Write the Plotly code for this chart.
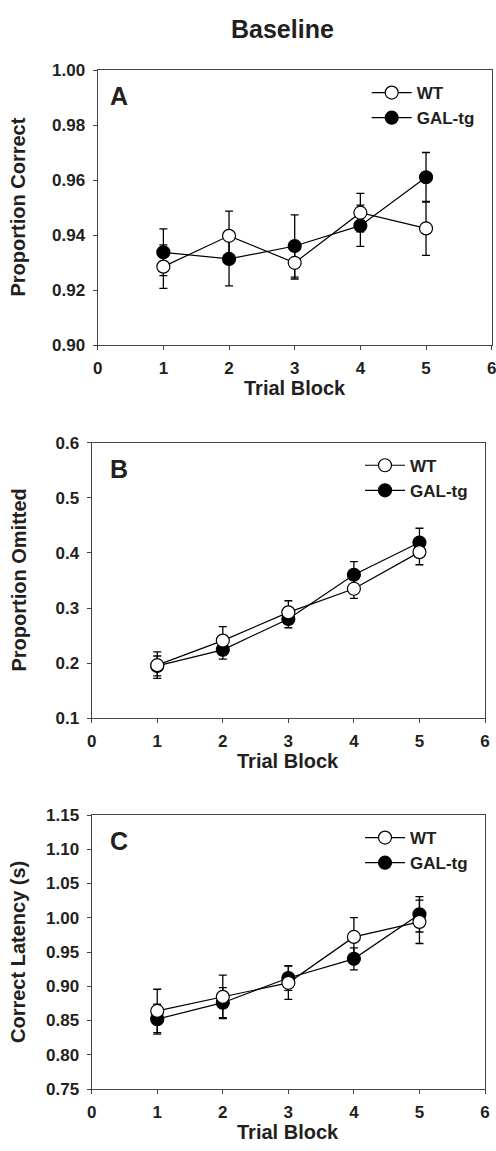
import plotly.graph_objects as go

# ---------------- data ----------------
trial_blocks = [1, 2, 3, 4, 5]
x_tick_vals = [0, 1, 2, 3, 4, 5, 6]

wt_correct = [0.9285, 0.9397, 0.9299, 0.9481, 0.9424]
wt_correct_err = [0.0079, 0.0090, 0.0059, 0.0070, 0.0098]
gal_correct = [0.9337, 0.9313, 0.9360, 0.9434, 0.9610]
gal_correct_err = [0.0085, 0.0098, 0.0113, 0.0075, 0.0090]

wt_omitted = [0.1964, 0.2410, 0.2922, 0.3350, 0.4015]
wt_omitted_err = [0.0240, 0.0253, 0.0211, 0.0175, 0.0229]
gal_omitted = [0.1950, 0.2242, 0.2803, 0.3604, 0.4188]
gal_omitted_err = [0.0180, 0.0170, 0.0160, 0.0240, 0.0260]

wt_latency = [0.864, 0.8845, 0.905, 0.972, 0.994]
wt_latency_err = [0.0316, 0.0316, 0.0243, 0.0282, 0.0316]
gal_latency = [0.852, 0.876, 0.912, 0.940, 1.005]
gal_latency_err = [0.0219, 0.0219, 0.0180, 0.0160, 0.0258]

series_names = ["WT", "GAL-tg"]
panel_letters = ["A", "B", "C"]
y_titles = ["Proportion Correct", "Proportion Omitted", "Correct Latency (s)"]
x_title = "Trial Block"
main_title = "Baseline"

# ---------------- layout geometry (pixels) ----------------
W, H = 496, 1151
FONT = "Liberation Sans, Arial, Helvetica, sans-serif"
TXT = "#231f20"
AX = "#444444"

panels = [
    dict(left=97.7, right=491.7, top=70.0, bottom=345.0,
         yrange=[0.90, 1.00], dtick=0.02, fmt=".2f",
         wt=wt_correct, wt_err=wt_correct_err, gal=gal_correct, gal_err=gal_correct_err),
    dict(left=91.7, right=485.0, top=442.7, bottom=718.3,
         yrange=[0.1, 0.6], dtick=0.1, fmt=".1f",
         wt=wt_omitted, wt_err=wt_omitted_err, gal=gal_omitted, gal_err=gal_omitted_err),
    dict(left=91.7, right=485.0, top=815.0, bottom=1089.0,
         yrange=[0.75, 1.15], dtick=0.05, fmt=".2f",
         wt=wt_latency, wt_err=wt_latency_err, gal=gal_latency, gal_err=gal_latency_err),
]

fig = go.Figure()
annotations = []
layout = dict(
    width=W, height=H,
    margin=dict(l=0, r=0, t=0, b=0, autoexpand=False),
    paper_bgcolor="white", plot_bgcolor="white",
    font=dict(family=FONT, color=TXT, size=17, weight="bold"),
    showlegend=True,
)

for i, p in enumerate(panels):
    n = "" if i == 0 else str(i + 1)
    xa, ya = "x" + n, "y" + n
    leg = "legend" + n
    xdom = [p["left"] / W, p["right"] / W]
    ydom = [1 - p["bottom"] / H, 1 - p["top"] / H]

    # error bars (drawn beneath markers)
    for vals, errs in ((p["gal"], p["gal_err"]), (p["wt"], p["wt_err"])):
        fig.add_trace(go.Scatter(
            x=trial_blocks, y=vals, mode="markers",
            marker=dict(size=1, color="rgba(0,0,0,0)"),
            error_y=dict(type="data", array=errs, visible=True,
                         color="black", thickness=1.3, width=4),
            showlegend=False, hoverinfo="skip", xaxis=xa, yaxis=ya,
        ))
    # GAL-tg (filled)
    fig.add_trace(go.Scatter(
        x=trial_blocks, y=p["gal"], mode="lines+markers", name=series_names[1],
        line=dict(color="black", width=1.2),
        marker=dict(symbol="circle", size=13, color="black",
                    line=dict(color="black", width=1.2)),
        xaxis=xa, yaxis=ya, legend=leg, legendrank=2,
    ))
    # WT (open)
    fig.add_trace(go.Scatter(
        x=trial_blocks, y=p["wt"], mode="lines+markers", name=series_names[0],
        line=dict(color="black", width=1.2),
        marker=dict(symbol="circle", size=13, color="white",
                    line=dict(color="black", width=1.2)),
        xaxis=xa, yaxis=ya, legend=leg, legendrank=1,
    ))

    axis_common = dict(
        showgrid=False, zeroline=False, showline=True, linecolor=AX, linewidth=1.2,
        mirror=True, ticks="outside", ticklen=4, tickwidth=1, tickcolor=AX,
        ticklabeloverflow="allow",
        tickfont=dict(family=FONT, size=17, color=TXT, weight="bold"),
    )
    layout["xaxis" + n] = dict(
        axis_common, domain=xdom, range=[0, 6], tickvals=x_tick_vals,
        anchor=ya, ticklabelstandoff=3,
    )
    layout["yaxis" + n] = dict(
        axis_common, domain=ydom, range=p["yrange"], dtick=p["dtick"],
        tick0=p["yrange"][0], tickformat=p["fmt"], anchor=xa,
        ticklabelstandoff=4,
    )
    layout[leg] = dict(
        x=(p["right"] - 125) / W, y=1 - (p["top"] + 5) / H,
        xanchor="left", yanchor="top", bgcolor="rgba(0,0,0,0)",
        font=dict(family=FONT, size=17, color=TXT, weight="bold"),
        traceorder="normal", tracegroupgap=0, itemwidth=40,
    )

    # panel letter
    annotations.append(dict(
        text=panel_letters[i], xref="paper", yref="paper",
        x=(108 if i == 0 else p["left"] + 16) / W,
        y=1 - (p["top"] + 26) / H, xanchor="left", yanchor="middle",
        showarrow=False, font=dict(family=FONT, size=25, color=TXT, weight="bold"),
    ))
    # x title
    annotations.append(dict(
        text=x_title, xref="paper", yref="paper",
        x=(p["left"] + p["right"]) / 2 / W, y=1 - (p["bottom"] + 43) / H,
        xanchor="center", yanchor="middle", showarrow=False,
        font=dict(family=FONT, size=20, color=TXT, weight="bold"),
    ))
    # y title
    annotations.append(dict(
        text=y_titles[i], xref="paper", yref="paper", textangle=-90,
        x=18 / W, y=1 - (p["top"] + p["bottom"]) / 2 / H,
        xanchor="center", yanchor="middle", showarrow=False,
        font=dict(family=FONT, size=20, color=TXT, weight="bold"),
    ))

annotations.append(dict(
    text=main_title, xref="paper", yref="paper", x=282 / W, y=1 - 29 / H,
    xanchor="center", yanchor="middle", showarrow=False,
    font=dict(family=FONT, size=25, color=TXT, weight="bold"),
))
layout["annotations"] = annotations
fig.update_layout(**layout)
fig.write_html(
    "out.html",
    config={"displayModeBar": False},
    post_script="document.body.style.margin='0';document.body.style.padding='0';",
)
